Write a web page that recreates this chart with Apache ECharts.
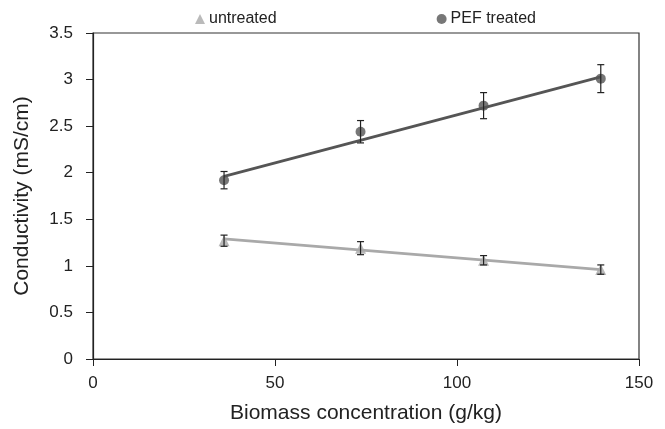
<!DOCTYPE html>
<html>
<head>
<meta charset="utf-8">
<script src="https://cdn.jsdelivr.net/npm/echarts@6/dist/echarts.min.js"></script>
<style>
  html, body { margin: 0; padding: 0; background: #fff; }
  #chart { width: 665px; height: 429px; }
</style>
</head>
<body>
<div id="chart"></div>
<script>
// biomass concentration (g/kg)
var biomass = [36, 73.5, 107.3, 139.5];

// conductivity (mS/cm) and error bar half-widths
var untreated = [1.27, 1.19, 1.06, 0.96];
var untreatedErr = [0.06, 0.07, 0.05, 0.05];
var pefTreated = [1.92, 2.44, 2.72, 3.01];
var pefErr = [0.093, 0.12, 0.14, 0.15];

// linear trend lines, endpoints
var trendX = [36, 139.5];
var untreatedTrend = [1.29, 0.96];
var pefTrend = [1.96, 3.03];

var xTicks = [0, 50, 100, 150];
var yTicks = [0, 0.5, 1, 1.5, 2, 2.5, 3, 3.5];

var FONT = 'Liberation Sans';
var DARK = '#555555';
var LIGHT = '#a9a9a9';

function pairs(xs, ys) {
  return xs.map(function (x, i) { return [x, ys[i]]; });
}

function errData(xs, ys, es) {
  return xs.map(function (x, i) { return [x, ys[i] - es[i], ys[i] + es[i]]; });
}

function renderErr(params, api) {
  var lo = api.coord([api.value(0), api.value(1)]);
  var hi = api.coord([api.value(0), api.value(2)]);
  var w = 3.5;
  var style = { stroke: '#222', lineWidth: 1.2 };
  return {
    type: 'group',
    children: [
      { type: 'line', shape: { x1: lo[0], y1: lo[1], x2: hi[0], y2: hi[1] }, style: style },
      { type: 'line', shape: { x1: lo[0] - w, y1: lo[1], x2: lo[0] + w, y2: lo[1] }, style: style },
      { type: 'line', shape: { x1: hi[0] - w, y1: hi[1], x2: hi[0] + w, y2: hi[1] }, style: style }
    ]
  };
}

var chart = echarts.init(document.getElementById('chart'), null, { renderer: 'canvas' });

chart.setOption({
  animation: false,
  backgroundColor: '#fff',
  textStyle: { fontFamily: FONT },
  legend: {
    top: 6,
    left: 190,
    itemGap: 160,
    itemWidth: 10,
    itemHeight: 10,
    textStyle: { fontFamily: FONT, fontSize: 16, color: '#222', padding: [0, 0, 0, -1] },
    data: [
      { name: 'untreated', icon: 'triangle', itemStyle: { color: LIGHT } },
      { name: 'PEF treated', icon: 'circle', itemStyle: { color: DARK } }
    ]
  },
  grid: {
    left: 93, right: 26, top: 33, bottom: 70,
    outerBoundsMode: 'none',
    containLabel: false,
    show: true,
    borderColor: '#333',
    borderWidth: 1.2,
    backgroundColor: '#fff'
  },
  xAxis: {
    type: 'value',
    min: xTicks[0], max: xTicks[xTicks.length - 1], interval: 50,
    name: 'Biomass concentration (g/kg)',
    nameLocation: 'middle',
    nameGap: 44,
    nameTextStyle: { fontFamily: FONT, fontSize: 21, color: '#222' },
    axisLine: { lineStyle: { color: '#222', width: 1.2 } },
    axisTick: { show: true, length: 7, lineStyle: { color: '#222' } },
    axisLabel: { fontFamily: FONT, fontSize: 17, color: '#222', margin: 16 },
    splitLine: { show: false }
  },
  yAxis: {
    type: 'value',
    min: yTicks[0], max: yTicks[yTicks.length - 1], interval: 0.5,
    name: 'Conductivity (mS/cm)',
    nameLocation: 'middle',
    nameGap: 60,
    nameTextStyle: { fontFamily: FONT, fontSize: 21, color: '#222' },
    axisLine: { lineStyle: { color: '#222', width: 1.2 } },
    axisTick: { show: true, length: 7, lineStyle: { color: '#222' } },
    axisLabel: { fontFamily: FONT, fontSize: 17, color: '#222', margin: 20 },
    splitLine: { show: false }
  },
  series: [
    {
      name: 'untreated trend', type: 'line', data: pairs(trendX, untreatedTrend),
      symbol: 'none', lineStyle: { color: LIGHT, width: 2.8 }, z: 2
    },
    {
      name: 'PEF trend', type: 'line', data: pairs(trendX, pefTrend),
      symbol: 'none', lineStyle: { color: DARK, width: 2.8 }, z: 2
    },
    {
      name: 'untreated', type: 'scatter', data: pairs(biomass, untreated),
      symbol: 'triangle', symbolSize: 11, itemStyle: { color: LIGHT }, z: 3
    },
    {
      name: 'PEF treated', type: 'scatter', data: pairs(biomass, pefTreated),
      symbol: 'circle', symbolSize: 10, itemStyle: { color: DARK }, z: 3
    },
    {
      name: 'untreated err', type: 'custom', renderItem: renderErr,
      data: errData(biomass, untreated, untreatedErr), z: 4
    },
    {
      name: 'PEF err', type: 'custom', renderItem: renderErr,
      data: errData(biomass, pefTreated, pefErr), z: 4
    }
  ]
});
</script>
</body>
</html>
